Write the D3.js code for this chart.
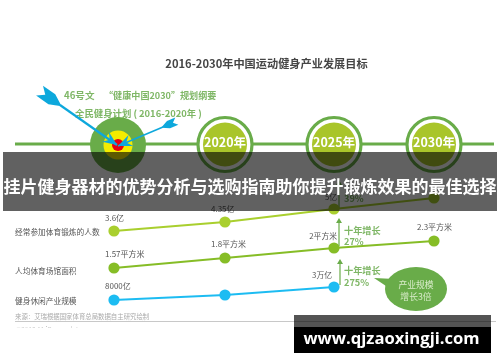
<!DOCTYPE html>
<html>
<head>
<meta charset="utf-8">
<script src="https://d3js.org/d3.v7.min.js"></script>
<style>
  html, body { margin: 0; padding: 0; background: #fff; }
  svg { display: block; }
  text { font-family: "Noto Sans CJK SC", "Noto Sans", sans-serif; }
</style>
</head>
<body>
<div id="chart"></div>
<script>
// values
const years = [2016, 2020, 2025, 2030];
const milestoneYears = [2020, 2025, 2030];

const peopleNames = "经常参加体育锻炼的人数";
const peopleValues = [3.6, 4.35, 5, 5.3];            // 亿, last one hidden by the banner
const peopleLabels = ["3.6亿", "4.35亿", "5亿"];

const areaNames = "人均体育场馆面积";
const areaValues = [1.57, 1.8, 2, 2.3];              // 平方米
const areaLabels = ["1.57平方米", "1.8平方米", "2平方米", "2.3平方米"];

const industryNames = "健身休闲产业规模";
const industryValues = [8000, 15000, 30000];         // 亿, middle one has no label
const industryLabels = ["8000亿", null, "3万亿"];

const width = 500;
const height = 362;

const x = d3.scaleLinear().domain(years).range([114, 225, 334, 434]);

// each row has its own little y scale, the source is not drawn to one axis
const yPeople = d3.scaleLinear().domain(peopleValues).range([231, 222, 209, 198]);
const yArea = d3.scaleLinear().domain(areaValues).range([268, 258, 248, 241]);
const yIndustry = d3.scaleLinear().domain(industryValues).range([300, 295, 287]);

const svg = d3.select("#chart").append("svg")
  .attr("width", width)
  .attr("height", height);

const defs = svg.append("defs");
const blur = defs.append("filter")
  .attr("id", "soft")
  .attr("x", "-5%").attr("y", "-5%").attr("width", "110%").attr("height", "110%");
blur.append("feGaussianBlur").attr("stdDeviation", 0.42);

// the line under the source note is cut off by the image edge
defs.append("clipPath").attr("id", "cut")
  .append("rect").attr("x", 0).attr("y", 0).attr("width", width).attr("height", 327.5);

const chart = svg.append("g").attr("filter", "url(#soft)");

function addText(parent, px, py, str, size, color, opts = {}) {
  return parent.append("text")
    .attr("x", px)
    .attr("y", py)
    .attr("dominant-baseline", "central")
    .attr("text-anchor", opts.anchor || "start")
    .attr("font-size", size)
    .attr("font-weight", opts.weight || "normal")
    .attr("fill", color)
    .text(str);
}

// header
addText(chart, 266.5, 62.5, "2016-2030年中国运动健身产业发展目标", 11.2, "#444", { anchor: "middle", weight: "bold" });
addText(chart, 64, 95, "46号文", 9.6, "#7fb766", { weight: "bold" });
addText(chart, 104, 95, "“健康中国2030”规划纲要", 9.1, "#7fb766", { weight: "bold" });
addText(chart, 75, 113, "全民健身计划 ( 2016-2020年 )", 9.4, "#7fb766", { weight: "bold" });

// timeline
chart.append("line")
  .attr("x1", 15).attr("x2", 494)
  .attr("y1", 144).attr("y2", 144)
  .attr("stroke", "#69ac4a")
  .attr("stroke-width", 3);

// target at the start of the timeline
const target = chart.append("g").attr("transform", "translate(118,145)");
target.append("circle").attr("r", 28).attr("fill", "#69ac4a");
target.append("circle").attr("r", 14.5).attr("fill", "#f4ec00");
target.append("circle").attr("r", 6).attr("fill", "#e60012");

// arrows into the target
const arrowColor = "#10a8dc";
function arrow(x1, y1, x2, y2, w, len, half) {
  const g = chart.append("g");
  g.append("line")
    .attr("x1", x1).attr("y1", y1).attr("x2", x2).attr("y2", y2)
    .attr("stroke", arrowColor)
    .attr("stroke-width", w);
  const a = Math.atan2(y2 - y1, x2 - x1) * 180 / Math.PI;
  // fletching at the tail
  g.append("path")
    .attr("transform", `translate(${x1},${y1}) rotate(${a})`)
    .attr("d", `M2,0L${-len * 0.4},${-half}L${-len},${-half}L${-len * 0.72},0L${-len},${half}L${-len * 0.4},${half}Z`)
    .attr("fill", arrowColor);
  // head
  g.append("path")
    .attr("transform", `translate(${x2},${y2}) rotate(${a})`)
    .attr("d", "M0,0L-14,-6L-9,0L-14,6Z")
    .attr("fill", arrowColor);
}
arrow(60, 105, 117, 145, 2.2, 25, 6);
arrow(163, 127, 118, 146, 1.6, 15, 4);

// milestone circles
const milestone = chart.selectAll("g.milestone")
  .data(milestoneYears)
  .enter()
  .append("g")
  .attr("class", "milestone")
  .attr("transform", d => `translate(${x(d)},144.5)`);
milestone.append("circle").attr("r", 27).attr("fill", "#fff").attr("stroke", "#69ac4a").attr("stroke-width", 3.2);
milestone.append("circle").attr("r", 22).attr("fill", "#a9c52c");
milestone.append("text")
  .attr("text-anchor", "middle")
  .attr("dominant-baseline", "central")
  .attr("y", -3)
  .attr("font-size", 12.5)
  .attr("font-weight", "bold")
  .attr("fill", "#fff")
  .text(d => d + "年");

// growth arrows
const growthColor = "#69ac4a";
function growthArrow(px, y1, y2) {
  chart.append("line")
    .attr("x1", px).attr("x2", px).attr("y1", y1).attr("y2", y2 + 4)
    .attr("stroke", growthColor)
    .attr("stroke-width", 1.2);
  chart.append("path")
    .attr("transform", `translate(${px},${y2})`)
    .attr("d", "M0,0L-3,5L3,5Z")
    .attr("fill", growthColor);
}
growthArrow(339, 209, 180);
growthArrow(339, 246, 218);
growthArrow(340, 285, 259);

// rows
const rows = [
  { name: peopleNames, values: peopleValues, labels: peopleLabels, y: yPeople, color: "#a9cf2e", nameY: 231 },
  { name: areaNames, values: areaValues, labels: areaLabels, y: yArea, color: "#86bd28", nameY: 270 },
  { name: industryNames, values: industryValues, labels: industryLabels, y: yIndustry, color: "#1fbcf2", nameY: 300 }
];

const lineGen = d3.line();
rows.forEach(row => {
  const pts = row.values.map((v, i) => [x(years[i]), row.y(v)]);

  addText(chart, 15, row.nameY, row.name, 7.7, "#555");

  chart.append("path")
    .attr("d", lineGen(pts))
    .attr("fill", "none")
    .attr("stroke", row.color)
    .attr("stroke-width", 2.2);

  chart.selectAll(null)
    .data(pts)
    .enter()
    .append("circle")
    .attr("cx", d => d[0])
    .attr("cy", d => d[1])
    .attr("r", 5.6)
    .attr("fill", row.color);
});

// value labels, hand placed above each point
const labelGap = [14, 15, 15];
rows.forEach((row, r) => {
  row.labels.forEach((str, i) => {
    if (!str) return;
    const px = x(years[i]);
    const py = row.y(row.values[i]);
    if (i === 2) {
      // the 2025 labels sit to the left of the growth arrow
      addText(chart, px + (r === 2 ? -2 : 3), py - (r === 2 ? 13 : 12.5), str, 7.8, "#555", { anchor: "end" });
    } else {
      addText(chart, px - 9 + (i === 1 ? -5 : 0) + (i === 3 ? -8 : 0), py - labelGap[r], str, 8, "#555");
    }
  });
});

// growth notes
addText(chart, 344, 230, "十年增长", 9.2, "#7fb766", { weight: "bold" });
addText(chart, 344, 240.5, "27%", 9.2, "#7fb766", { weight: "bold" });
addText(chart, 344, 270, "十年增长", 9.2, "#7fb766", { weight: "bold" });
addText(chart, 344, 281.5, "275%", 9.2, "#7fb766", { weight: "bold" });
addText(chart, 344, 198, "39%", 9.2, "#7fb766", { weight: "bold" });

// speech bubble
chart.append("path")
  .attr("d", "M374,278L395,279L392,290Z")
  .attr("fill", "#69ac4a");
chart.append("ellipse")
  .attr("cx", 416).attr("cy", 289)
  .attr("rx", 31).attr("ry", 22)
  .attr("fill", "#69ac4a");
addText(chart, 416, 284, "产业规模", 8.8, "#d9ecc9", { anchor: "middle" });
addText(chart, 416, 296, "增长3倍", 8.8, "#d9ecc9", { anchor: "middle" });

// source line
addText(chart, 15, 316, "来源：艾瑞根据国家体育总局数据自主研究绘制", 6.4, "#aaa");
chart.append("line")
  .attr("x1", 15).attr("x2", 496)
  .attr("y1", 321.5).attr("y2", 321.5)
  .attr("stroke", "#c8c8c8")
  .attr("stroke-width", 1);
addText(chart, 16, 329.5, "©2018.11 iResearch Inc.", 6.4, "#999")
  .attr("clip-path", "url(#cut)");

// grey banner over the chart
svg.append("rect")
  .attr("x", 3).attr("y", 152)
  .attr("width", 494).attr("height", 59)
  .attr("fill", "#000")
  .attr("fill-opacity", 0.62);
svg.append("text")
  .attr("x", 250).attr("y", 185.5)
  .attr("text-anchor", "middle")
  .attr("dominant-baseline", "central")
  .attr("font-size", 17)
  .attr("font-weight", "bold")
  .attr("fill", "#fff")
  .text("挂片健身器材的优势分析与选购指南助你提升锻炼效果的最佳选择");

// site stamp, bottom right
svg.append("rect")
  .attr("x", 294).attr("y", 315)
  .attr("width", 197).attr("height", 12)
  .attr("fill", "#000")
  .attr("fill-opacity", 0.67);
svg.append("rect")
  .attr("x", 294).attr("y", 327)
  .attr("width", 197).attr("height", 26)
  .attr("fill", "#000");
svg.append("text")
  .attr("x", 391.5).attr("y", 337)
  .attr("text-anchor", "middle")
  .attr("dominant-baseline", "central")
  .attr("font-size", 16.6)
  .attr("font-weight", "bold")
  .attr("fill", "#fff")
  .style("font-family", '"Open Sans", sans-serif')
  .text("www.qjzaoxingji.com");
</script>
</body>
</html>
